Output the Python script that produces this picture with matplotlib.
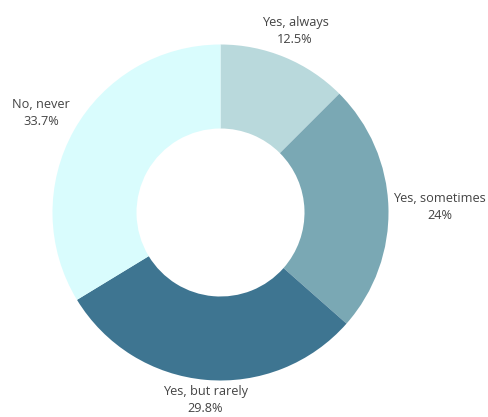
import matplotlib.pyplot as plt
import numpy as np

# Survey answers
labels = ['Yes, always', 'Yes, sometimes', 'Yes, but rarely', 'No, never']
values = [12.5, 24, 29.8, 33.7]
value_text = ['12.5%', '24%', '29.8%', '33.7%']
colors = ['#b9d9dc', '#7aa8b4', '#3e7591', '#d9fcfd']

plt.rcParams['font.family'] = ['Open Sans', 'DejaVu Sans']

fig = plt.figure(figsize=(4.89, 4.17), dpi=100)
# donut centred at (220, 212) px, outer radius ~168 px
ax = fig.add_axes([52.5 / 489, 36.5 / 417, 336 / 489, 336 / 417])

wedges, _ = ax.pie(values, colors=colors, startangle=90, counterclock=False,
                   radius=1.0, wedgeprops=dict(width=0.5, linewidth=0))
ax.set_xlim(-1, 1)
ax.set_ylim(-1, 1)
ax.set_aspect('equal')
ax.axis('off')

# outside labels, aligned by the direction of each slice's middle
for w, lab, vt in zip(wedges, labels, value_text):
    mid = np.deg2rad((w.theta1 + w.theta2) / 2)
    c, s = np.cos(mid), np.sin(mid)
    r = 1.03
    ha = 'left' if c > 0.5 else ('right' if c < -0.5 else 'center')
    va = 'bottom' if s > 0.3 else ('top' if s < -0.3 else 'center')
    x, y = r * c, r * s
    if ha == 'center' and va == 'bottom':
        x += 0.05
        y += 0.04
    ax.text(x, y, f'{lab}\n{vt}', ha=ha, va=va, multialignment='center',
            fontsize=9.2, color='#444444', linespacing=1.4, clip_on=False)

plt.savefig('out.png', dpi=100)
